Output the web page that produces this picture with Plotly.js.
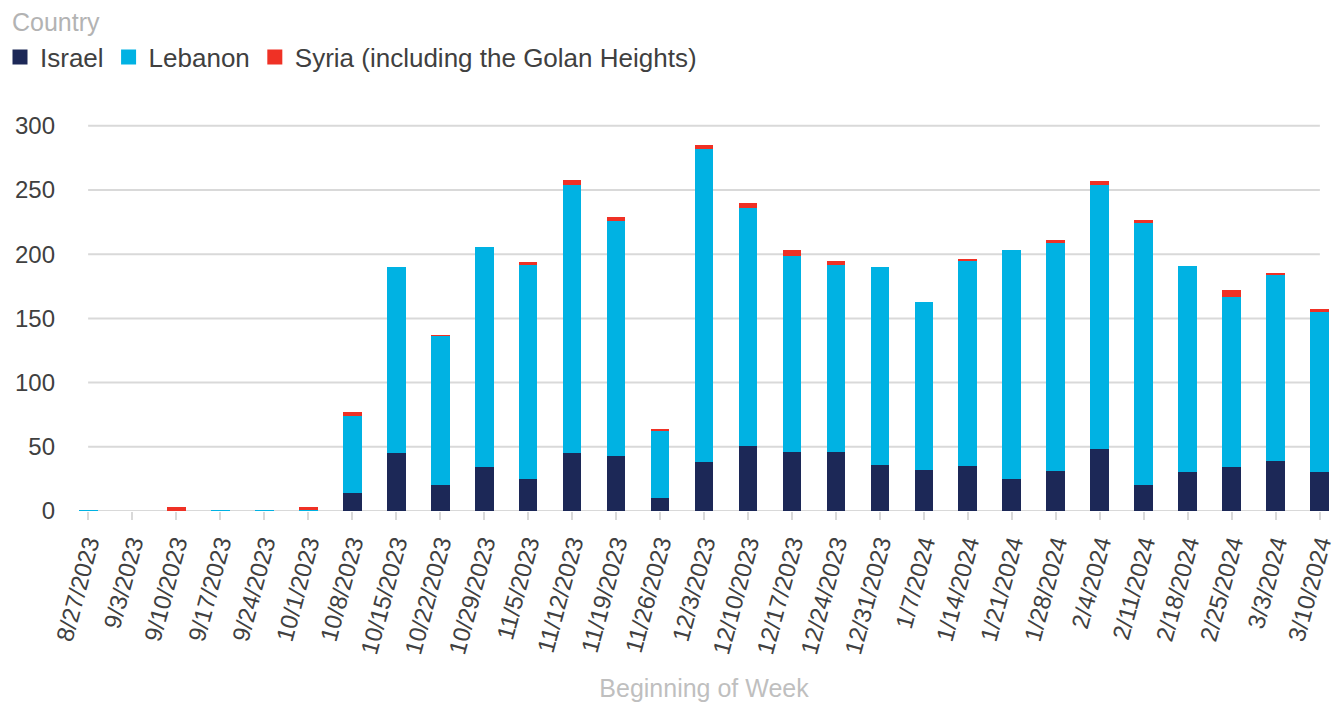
<!DOCTYPE html>
<html>
<head>
<meta charset="utf-8">
<script src="https://cdn.plot.ly/plotly-3.0.1.min.js"></script>
<style>html,body{margin:0;padding:0;background:#fff;}#chart{width:1334px;height:702px;}</style>
</head>
<body>
<div id="chart"></div>
<script>
const weeks = ["8/27/2023","9/3/2023","9/10/2023","9/17/2023","9/24/2023","10/1/2023","10/8/2023","10/15/2023","10/22/2023","10/29/2023","11/5/2023","11/12/2023","11/19/2023","11/26/2023","12/3/2023","12/10/2023","12/17/2023","12/24/2023","12/31/2023","1/7/2024","1/14/2024","1/21/2024","1/28/2024","2/4/2024","2/11/2024","2/18/2024","2/25/2024","3/3/2024","3/10/2024"];
const israel  = [0,0,0,0,0,0,14,45,20,34,25,45,43,10,38,51,46,46,36,32,35,25,31,48,20,30,34,39,30];
const lebanon = [1,0,0,1,1,1,60,145,116,172,167,209,183,52,244,185,153,146,154,131,160,178,178,206,204,161,133,145,125];
const syria   = [0,0,3,0,0,2,3,0,1,0,2,4,3,2,3,4,4,3,0,0,1,0,2,3,3,0,5,1,2];
const seriesNames = ["Israel","Lebanon","Syria (including the Golan Heights)"];
const seriesColors = ["#1c2857","#00b2e3","#ef3125"];
const yTicks = [0,50,100,150,200,250,300];

const font = "Liberation Sans, Arial, sans-serif";
const values = [israel, lebanon, syria];
const traces = values.map((v,i) => ({
  name:seriesNames[i], x:weeks, y:v, type:"bar", showlegend:false,
  marker:{color:seriesColors[i]}
}));
// legend entries with larger square swatches
seriesNames.forEach((n,i) => traces.push({
  name:n, x:[null], y:[null], type:"scatter", mode:"markers", showlegend:true,
  marker:{symbol:"square", size:15, color:seriesColors[i]}
}));
const shapes = yTicks.map(v => ({
  type:"line", xref:"x", yref:"y", x0:weeks[0], x1:weeks[weeks.length-1], y0:v, y1:v,
  line:{color:"#d9d9d9", width:2}, layer:"below"
}));
const layout = {
  width:1334, height:702,
  margin:{l:78, r:4, t:113, b:191},
  barmode:"stack", bargap:0.57,
  paper_bgcolor:"#fff", plot_bgcolor:"#fff",
  font:{family:font, size:24, color:"#404040"},
  showlegend:true,
  legend:{
    orientation:"h", xref:"container", yref:"container", x:0, y:0.952, xanchor:"left", yanchor:"top",
    font:{size:26, color:"#404040"}, traceorder:"normal", itemclick:false
  },
  annotations:[{
    text:"Country", xref:"paper", yref:"paper", x:-0.0543, y:1.2286, xanchor:"left", yanchor:"middle",
    showarrow:false, font:{size:25, color:"#b3b3b3"}
  }],
  xaxis:{
    type:"category", range:[-0.23, 28.23], showgrid:false, zeroline:false, showline:false,
    ticks:"outside", ticklen:8, tickwidth:2, tickcolor:"#d9d9d9", tickangle:-75,
    tickfont:{size:24, color:"#404040"},
    title:{text:"Beginning of Week", font:{size:25, color:"#bfbfbf"}, standoff:46}
  },
  yaxis:{
    range:[0,310], tickvals:yTicks, showgrid:false, zeroline:false, showline:false,
    ticks:"", ticklabelstandoff:22, tickfont:{size:24, color:"#404040"}
  },
  shapes:shapes
};
Plotly.newPlot("chart", traces, layout, {displayModeBar:false, staticPlot:true});
</script>
</body>
</html>
